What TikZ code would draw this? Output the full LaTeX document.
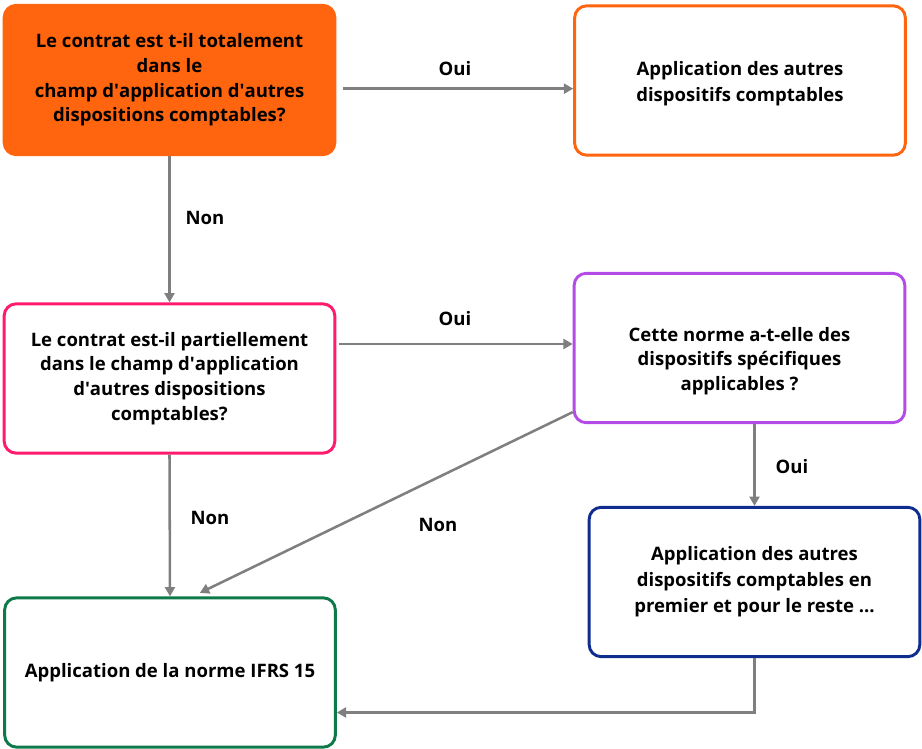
\documentclass[tikz,border=0pt]{standalone}
\usepackage{fontspec}
\setmainfont{Open Sans}
\usetikzlibrary{arrows.meta}

\definecolor{orangeA}{HTML}{FF640F}
\definecolor{roseC}{HTML}{FF1A6E}
\definecolor{violetD}{HTML}{B34CE6}
\definecolor{bleuE}{HTML}{0F2D8E}
\definecolor{vertF}{HTML}{0E7A4A}
\definecolor{fleche}{HTML}{7F7F7F}

\newcommand{\apos}{\textquotesingle}

\tikzset{
  boite/.style={rounded corners=9pt, line width=2.2pt, fill=white, align=center,
    minimum width=248pt, minimum height=112pt, inner sep=0pt,
    font=\fontsize{13.9}{18.5}\selectfont\bfseries},
  etiq/.style={font=\fontsize{13.9}{18.5}\selectfont\bfseries},
  fl/.style={draw=fleche, line width=1.9pt, -{Triangle[length=7pt,width=7.5pt]}}
}

\begin{document}
\begin{tikzpicture}[x=0.75pt,y=0.75pt,yscale=-1,xscale=1]
\useasboundingbox (0,0) rectangle (922,749);

%Shape: Rounded Rect [id:totalement]
\node (A) at (169.5,80) [boite, draw=orangeA, fill=orangeA] {Le contrat est t-il totalement\\dans le\\champ d\apos application d\apos autres\\dispositions comptables?};
%Shape: Rounded Rect [id:autres]
\node (B) at (740,80.5) [boite, draw=orangeA] {\rule{0pt}{15pt}Application des autres\\[1pt]dispositifs comptables};
%Shape: Rounded Rect [id:partiellement]
\node (C) at (169.5,378.5) [boite, draw=roseC] {Le contrat est-il partiellement\\dans le champ d\apos application\\d\apos autres dispositions\\comptables?};
%Shape: Rounded Rect [id:norme]
\node (D) at (739.5,348) [boite, draw=violetD] {\rule{0pt}{30pt}Cette norme a-t-elle des\\dispositifs spécifiques\\applicables ?};
%Shape: Rounded Rect [id:premier]
\node (E) at (754.5,582) [boite, draw=bleuE] {Application des autres\\[1pt]dispositifs comptables en\\[1pt]premier et pour le reste ...};
%Shape: Rounded Rect [id:ifrs]
\node (F) at (170,672.5) [boite, draw=vertF] {Application de la norme IFRS 15};

%Straight Lines
\draw [fl, shorten <=5pt] ([yshift=6.5pt]A.east) -- ([yshift=6.5pt]A.east -| B.west);
\draw [fl] (A.south) -- (C.north);
\draw [fl, shorten <=2pt] ([yshift=-3pt]D.west -| C.east) -- ([yshift=-3pt]D.west);
\draw [fl] (E.north |- D.south) -- (E.north);
\draw [fl] (C.south) -- (F.north);
\draw [fl, shorten >=6pt] ([yshift=-9pt]D.south west) -- ([xshift=17pt]F.north);
\draw [fl] (E.south) |- ([yshift=30pt]F.east);

% Text Node
\node (oui1) at (455,69) [etiq] {Oui};
% Text Node
\node (non1) at (205,218) [etiq] {Non};
% Text Node
\node (oui2) at (455,319) [etiq] {Oui};
% Text Node
\node (oui3) at (792,467) [etiq] {Oui};
% Text Node
\node (non2) at (210,518) [etiq] {Non};
% Text Node
\node (non3) at (438,525) [etiq] {Non};

\end{tikzpicture}
\end{document}
